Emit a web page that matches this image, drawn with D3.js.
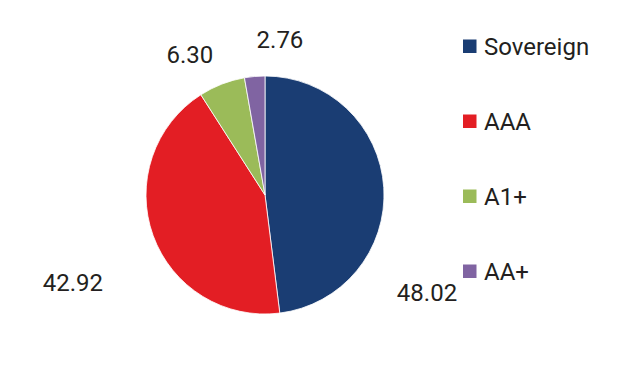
<!DOCTYPE html>
<html>
<head>
<meta charset="utf-8">
<script src="https://cdn.jsdelivr.net/npm/d3@7/dist/d3.min.js"></script>
<style>
  html, body { margin: 0; padding: 0; background: #fff; }
  svg { display: block; }
  text { font-family: Roboto, "Noto Sans", sans-serif; fill: #231f20; }
</style>
</head>
<body>
<script>
// ---- data ----
const categories = ["Sovereign", "AAA", "A1+", "AA+"];
const values = [48.02, 42.92, 6.30, 2.76];
const valueLabels = ["48.02", "42.92", "6.30", "2.76"];
const colors = ["#1a3d73", "#e31e24", "#9bbb59", "#8064a2"];

// ---- layout (not data) ----
const W = 630, H = 373;
const cx = 265, cy = 195, R = 119;
// label placement in polar coords around the pie centre: [angle (deg, clockwise from 12 o'clock), distance]
const labelPolar = [[121, 189], [245.6, 211], [331.8, 159], [5.5, 156]];
const fontSize = 24;

const svg = d3.select("body").append("svg").attr("width", W).attr("height", H);

const pie = d3.pie().sort(null).value(d => d)(values);
const arc = d3.arc().innerRadius(0).outerRadius(R);

const g = svg.append("g").attr("transform", `translate(${cx},${cy})`);
g.selectAll("path").data(pie).join("path")
  .attr("d", arc)
  .attr("fill", (d, i) => colors[i])
  .attr("stroke", "#fff")
  .attr("stroke-width", 0.8);

g.selectAll("text.val").data(pie).join("text")
  .attr("class", "val")
  .attr("x", (d, i) => labelPolar[i][1] * Math.sin(labelPolar[i][0] * Math.PI / 180))
  .attr("y", (d, i) => -labelPolar[i][1] * Math.cos(labelPolar[i][0] * Math.PI / 180))
  .attr("text-anchor", "middle")
  .attr("dy", "0.35em")
  .style("font-size", fontSize + "px")
  .text((d, i) => valueLabels[i]);

// legend
const legendY = d3.scalePoint().domain(categories).range([46, 271]);
const lg = svg.append("g");
const item = lg.selectAll("g").data(categories).join("g")
  .attr("transform", d => `translate(463,${legendY(d)})`);
item.append("rect")
  .attr("x", 0).attr("y", -6.5).attr("width", 13.5).attr("height", 13.5)
  .attr("fill", (d, i) => colors[i]);
item.append("text")
  .attr("x", 21).attr("y", 0).attr("dy", "0.36em")
  .style("font-size", fontSize + "px")
  .text(d => d);
</script>
</body>
</html>
